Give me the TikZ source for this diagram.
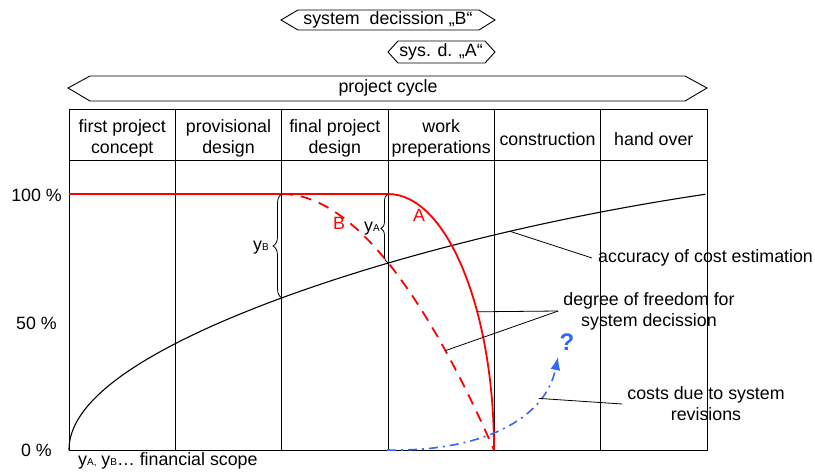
\documentclass[tikz,border=0pt]{standalone}
\usepackage{fontspec}
\setmainfont{Liberation Sans}
\usetikzlibrary{decorations.pathreplacing,arrows.meta}
\definecolor{myblue}{RGB}{51,102,255}
\newcommand\lbfont{\fontsize{17.8}{21}\selectfont}
\newcommand\mysub[1]{{\fontsize{10}{10}\selectfont #1}}
\tikzset{
  gridline/.style={line width=0.9pt, black},
  hexa/.style={line width=0.9pt, black},
  blk/.style={line width=1.1pt, black},
  redA/.style={red, line width=1.8pt},
  redB/.style={red, line width=1.8pt, dash pattern=on 11pt off 8pt},
  bluec/.style={myblue, line width=1.6pt, dash pattern=on 9pt off 5pt on 2pt off 5pt},
  lead/.style={line width=0.8pt, black},
  lbl/.style={inner sep=0pt},
  bracedeco/.style={line width=0.8pt, black, decorate, decoration={brace, amplitude=#1}},
}
\begin{document}
\begin{tikzpicture}[x=1pt, y=-1pt, font=\lbfont]
\useasboundingbox (0,0) rectangle (815,472);

% top hexagon arrows
\draw[hexa] (281,20) -- (298,10) -- (479,10) -- (495,20) -- (479,30) -- (298,30) -- cycle;
\node[lbl] (sysB) at (388,20) {system\ \ decission „B“};
\draw[hexa] (388,52) -- (398,41) -- (485,41) -- (495,52) -- (485,63) -- (398,63) -- cycle;
\node[lbl] (sysA) at (441,52) {sys. d. „A“};
\draw[hexa] (68,88) -- (90,76) -- (685,76) -- (707,88) -- (685,101) -- (90,101) -- cycle;
\node[lbl] (cycle) at (388,88) {project cycle};

% table
\draw[gridline] (69,109) rectangle (707,450);
\draw[gridline] (69,160) -- (707,160);
\foreach \i in {1,...,5} {
  \draw[gridline] ({69+106.333*\i},109) -- ({69+106.333*\i},450);
}
\node[lbl, align=center] (h1) at (122.2,138) {first project\\concept};
\node[lbl, align=center] (h2) at (228.5,138) {provisional\\design};
\node[lbl, align=center] (h3) at (334.8,138) {final project\\design};
\node[lbl, align=center] (h4) at (441.2,138) {work\\preperations};
\node[lbl] (h5) at (547.5,139) {construction};
\node[lbl] (h6) at (653.8,139) {hand over};

% axis labels
\node[lbl, anchor=east] (p100) at (62,195) {100 \%};
\node[lbl, anchor=east] (p50) at (57,323) {50 \%};
\node[lbl, anchor=east] (p0) at (52,450) {0 \%};

% accuracy curve
\draw[blk] plot[domain=0:1, samples=120, variable=\t]
  ({69+638*\t*\t}, {450-256*\t*(1+0.13*\t*\t*(1-\t*\t))});
\coordinate (accpt) at (510,231.3);

% red curves
\draw[redA] (69,194) -- (388,194) .. controls (446.5,194) and (494,308.6) .. (494,450)
  coordinate[pos=0.64] (apt);
\draw[redB] (282,194) .. controls (370,194) and (450,350) .. (494,450)
  coordinate[pos=0.7] (bpt);
\node[lbl, red] (lB) at (339,223) {B};
\node[lbl, red] (lA) at (419,215) {A};

% braces
\draw[bracedeco=9pt] (282,298) -- (282,194);
\draw[bracedeco=7pt] (388,263) -- (388,194);
\node[lbl] (yB) at (261,248) {y\mysub{B}};
\node[lbl] (yA) at (372,229) {y\mysub{A}};

% blue curve
\draw[bluec, -{Latex[length=13pt,width=10pt]}] (387,450) .. controls (480,452) and (545,420) .. (558,357)
  coordinate[pos=0.75] (cpt);
\node[lbl, myblue, font=\bfseries\fontsize{24}{24}\selectfont] (q) at (567,342) {?};

% annotations
\node[lbl, anchor=west, inner sep=6pt] (acc) at (592,258) {accuracy of cost estimation};
\draw[lead] (accpt) -- (acc.west);
\node[lbl, align=center, inner sep=5pt] (dof) at (649,311) {degree of freedom for\\system decission};
\draw[lead] (apt) -- (dof.west);
\draw[lead] (bpt) -- (dof.west);
\node[lbl, align=center, inner sep=5pt] (cost) at (706,404) {costs due to system\\revisions};
\draw[lead] (cpt) -- (cost.west);

\node[lbl, anchor=west] (fs) at (78,461) {y\mysub{A,} y\mysub{B}… financial scope};
\end{tikzpicture}
\end{document}
